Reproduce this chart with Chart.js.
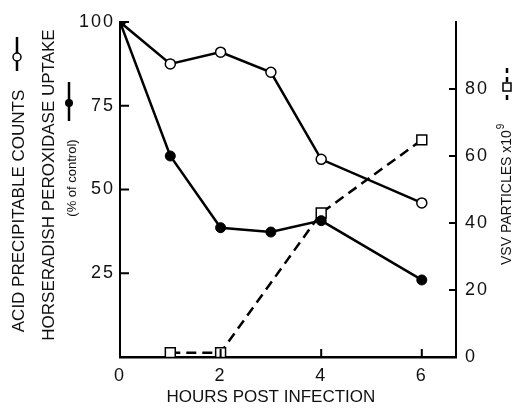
<!DOCTYPE html>
<html>
<head>
<meta charset="utf-8">
<script src="https://cdn.jsdelivr.net/npm/chart.js@4"></script>
<style>
  body { margin: 0; background: #fff; }
  #wrap { width: 520px; height: 410px; position: relative; }
</style>
</head>
<body>
<div id="wrap"><canvas id="vsvChart"></canvas></div>
<script>
// values (percent of control / particles x10^9)
const hours = [0, 1, 2, 3, 4, 6];
const acidCounts = [100, 87.5, 91, 85, 59, 46];
const hrpUptake = [100, 60, 38.6, 37.3, 40.7, 23];
const vsvHours = [1, 2, 4, 6];
const vsvParticles = [1.3, 1.3, 43, 64.8];

const xTicks = [0, 2, 4, 6];
const leftTicks = [25, 50, 75, 100];
const rightTicks = [0, 20, 40, 60, 80];

const tickFont = { family: "'Liberation Sans', Arial, sans-serif", size: 18 };

function pts(xs, ys) {
    return xs.map((x, i) => ({ x: x, y: ys[i] }));
}

// inward tick marks, axis titles and the little key symbols
const decor = {
    id: "decor",
    beforeDraw(chart) {
        // the old typewriter-ish numbers are spaced out a bit
        chart.ctx.letterSpacing = "2px";
    },
    afterDraw(chart) {
        const ctx = chart.ctx;
        const a = chart.chartArea;
        const sx = chart.scales.x, sy = chart.scales.y, sy2 = chart.scales.y2;
        ctx.letterSpacing = "0px";
        ctx.save();
        ctx.strokeStyle = "#000";
        ctx.lineWidth = 2;
        ctx.beginPath();
        xTicks.forEach(v => {
            if (v === 0) return;
            const px = sx.getPixelForValue(v);
            ctx.moveTo(px, a.bottom);
            ctx.lineTo(px, a.bottom - 8);
        });
        leftTicks.forEach(v => {
            const py = sy.getPixelForValue(v);
            ctx.moveTo(a.left, py);
            ctx.lineTo(a.left + 9, py);
        });
        rightTicks.forEach(v => {
            if (v === 0) return;
            const py = sy2.getPixelForValue(v);
            ctx.moveTo(a.right, py);
            ctx.lineTo(a.right - 7, py);
        });
        ctx.stroke();

        ctx.fillStyle = "#111";
        ctx.font = "17px 'Liberation Sans', Arial, sans-serif";
        ctx.textAlign = "center";
        ctx.textBaseline = "middle";
        ctx.fillText("HOURS POST INFECTION", sx.getPixelForValue(3), 397);

        function vtext(txt, x, y, font) {
            ctx.save();
            ctx.translate(x, y);
            ctx.rotate(-Math.PI / 2);
            ctx.font = font;
            ctx.fillText(txt, 0, 0);
            ctx.restore();
        }
        vtext("ACID PRECIPITABLE COUNTS", 19, 211, "17px 'Liberation Sans', Arial, sans-serif");
        vtext("HORSERADISH PEROXIDASE UPTAKE", 49, 185, "17px 'Liberation Sans', Arial, sans-serif");
        vtext("(% of control)", 72, 178, "13px 'Liberation Sans', Arial, sans-serif");

        // right title with superscript
        ctx.save();
        ctx.translate(507, 265);
        ctx.rotate(-Math.PI / 2);
        ctx.textAlign = "left";
        ctx.font = "14px 'Liberation Sans', Arial, sans-serif";
        const main = "VSV PARTICLES x10";
        ctx.fillText(main, 0, 0);
        const w = ctx.measureText(main).width;
        ctx.font = "10px 'Liberation Sans', Arial, sans-serif";
        ctx.fillText("9", w + 1, -6);
        ctx.restore();

        // key symbols
        ctx.lineWidth = 2.5;
        ctx.beginPath();
        ctx.moveTo(17, 37); ctx.lineTo(17, 71);
        ctx.moveTo(69, 82); ctx.lineTo(69, 121);
        ctx.stroke();
        ctx.lineWidth = 1.5;
        ctx.fillStyle = "#fff";
        ctx.beginPath();
        ctx.arc(17, 57, 4, 0, Math.PI * 2);
        ctx.fill(); ctx.stroke();
        ctx.fillStyle = "#000";
        ctx.beginPath();
        ctx.arc(69, 103, 4, 0, Math.PI * 2);
        ctx.fill();

        ctx.lineWidth = 2.5;
        ctx.setLineDash([5, 4]);
        ctx.beginPath();
        ctx.moveTo(507, 68); ctx.lineTo(507, 101);
        ctx.stroke();
        ctx.setLineDash([]);
        ctx.lineWidth = 1.5;
        ctx.fillStyle = "#fff";
        ctx.fillRect(503, 83, 8, 8);
        ctx.strokeRect(503, 83, 8, 8);
        ctx.restore();
    }
};

const ctx = document.getElementById("vsvChart").getContext("2d");
new Chart(ctx, {
    type: "scatter",
    data: {
        datasets: [
            {
                label: "Horseradish peroxidase uptake",
                data: pts(hours, hrpUptake),
                yAxisID: "y",
                showLine: true,
                borderColor: "#000",
                borderWidth: 2.5,
                pointStyle: "circle",
                pointRadius: 5,
                pointBackgroundColor: "#000",
                pointBorderColor: "#000",
                pointBorderWidth: 1
            },
            {
                label: "Acid precipitable counts",
                data: pts(hours, acidCounts),
                yAxisID: "y",
                showLine: true,
                borderColor: "#000",
                borderWidth: 2.5,
                pointStyle: "circle",
                pointRadius: 5,
                pointBackgroundColor: "#fff",
                pointBorderColor: "#000",
                pointBorderWidth: 1.5
            },
            {
                label: "VSV particles",
                data: pts(vsvHours, vsvParticles),
                yAxisID: "y2",
                showLine: true,
                borderColor: "#000",
                borderWidth: 2.5,
                borderDash: [10, 6],
                pointStyle: "rect",
                pointRadius: 7,
                pointBackgroundColor: "#fff",
                pointBorderColor: "#000",
                pointBorderWidth: 1.5
            }
        ]
    },
    options: {
        responsive: true,
        maintainAspectRatio: false,
        animation: false,
        layout: { padding: { top: 22, left: 0, right: 0, bottom: 0 } },
        plugins: {
            legend: { display: false },
            tooltip: { enabled: false }
        },
        scales: {
            x: {
                type: "linear",
                position: "bottom",
                min: 0,
                max: 6.68,
                grid: { display: false, drawTicks: false },
                border: { display: true, color: "#000", width: 2.5 },
                ticks: { color: "#111", font: tickFont, padding: 8 },
                afterBuildTicks: s => { s.ticks = xTicks.map(v => ({ value: v })); },
                afterFit: s => { s.height = 53; }
            },
            y: {
                position: "left",
                min: 0,
                max: 100,
                grid: { display: false, drawTicks: false },
                border: { display: true, color: "#000", width: 2 },
                ticks: { color: "#111", font: tickFont, padding: 5 },
                afterBuildTicks: s => { s.ticks = leftTicks.map(v => ({ value: v })); },
                afterFit: s => { s.width = 120; }
            },
            y2: {
                position: "right",
                min: 0,
                max: 100,
                grid: { display: false, drawTicks: false },
                border: { display: true, color: "#000", width: 2 },
                ticks: { color: "#111", font: tickFont, padding: 9 },
                afterBuildTicks: s => { s.ticks = rightTicks.map(v => ({ value: v })); },
                afterFit: s => { s.width = 64; }
            }
        }
    },
    plugins: [decor]
});
</script>
</body>
</html>
